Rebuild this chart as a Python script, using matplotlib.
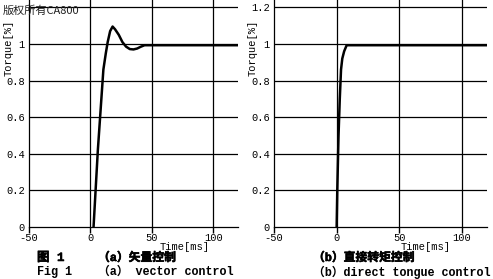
"""Torque step response: vector control vs direct torque control."""

import matplotlib
matplotlib.use("Agg")
import matplotlib.pyplot as plt
import matplotlib.patheffects as pe

MONO = "Liberation Mono"
CJK = ["Liberation Mono", "Noto Sans CJK SC"]

# (a) vector control, torque response
vc_time = [2.5, 6, 10.5, 12.5, 14, 16, 18, 20, 23, 26, 29, 32, 35, 38, 41, 44, 120]
vc_torque = [0, 0.42, 0.86, 0.95, 1.01, 1.07, 1.095, 1.08, 1.05, 1.01, 0.985,
             0.972, 0.97, 0.975, 0.985, 0.993, 0.993]

# (b) direct torque control
dtc_time = [0, 0.5, 1.5, 2.5, 3.5, 4.5, 6, 8, 120]
dtc_torque = [0, 0.2, 0.5, 0.7, 0.86, 0.92, 0.96, 0.993, 0.993]

x_ticks = [-50, 0, 50, 100]
y_ticks = [0, 0.2, 0.4, 0.6, 0.8, 1.0, 1.2]
y_labels = ["0", "0.2", "0.4", "0.6", "0.8", "1", "1.2"]

W, H = 493, 279
bold_fx = [pe.withStroke(linewidth=0.4, foreground="black")]


def setup(ax):
    ax.set_xlim(-50, 120)
    ax.set_ylim(0, 1.24)
    ax.set_xticks(x_ticks)
    ax.set_xticklabels([str(t) for t in x_ticks], family=MONO, fontsize=7.5)
    ax.set_yticks(y_ticks)
    ax.set_yticklabels(y_labels, family=MONO, fontsize=7.5)
    ax.tick_params(axis="x", length=4, width=1, pad=0.5, color="black")
    ax.tick_params(axis="y", length=0, pad=3)
    for t in x_ticks[1:]:
        ax.axvline(t, color="black", lw=0.9, zorder=1)
    for v in y_ticks[1:]:
        ax.axhline(v, color="black", lw=0.9, zorder=1)
    for s in ["top", "right"]:
        ax.spines[s].set_visible(False)
    ax.spines["left"].set_linewidth(0.9)
    ax.spines["bottom"].set_linewidth(0.9)
    ax.set_ylabel("Torque[%]", family=MONO, fontsize=7.5)
    ax.yaxis.set_label_coords(-0.075, 0.79)


fig = plt.figure(figsize=(W / 100, H / 100), dpi=100)

ax1 = fig.add_axes([29 / W, 52 / H, 209 / W, 227 / H])
setup(ax1)
ax1.plot(vc_time, vc_torque, color="black", lw=1.8, zorder=3)

ax2 = fig.add_axes([274 / W, 52 / H, 213 / W, 227 / H])
setup(ax2)
ax2.plot(dtc_time, dtc_torque, color="black", lw=1.8, zorder=3)

# the 1.2 label on the left panel sits under the watermark
ax1.get_yticklabels()[-1].set_visible(False)

# axis titles and captions
fig.text(185 / W, 1 - 247 / H, "Time[ms]", family=MONO, fontsize=7.5,
         ha="center", va="center")
fig.text(426 / W, 1 - 247 / H, "Time[ms]", family=MONO, fontsize=7.5,
         ha="center", va="center")

fig.text(37 / W, 1 - 258 / H, "图 1", family=CJK, fontsize=9,
         weight="bold", va="center", path_effects=bold_fx)
fig.text(98 / W, 1 - 258 / H, "（a）矢量控制", family=CJK, fontsize=8.5,
         weight="bold", va="center", path_effects=bold_fx)
fig.text(37 / W, 1 - 272 / H, "Fig 1", family=CJK, fontsize=8.5,
         weight="bold", va="center")
fig.text(98 / W, 1 - 272 / H, "（a） vector control", family=CJK, fontsize=8.5,
         weight="bold", va="center")

fig.text(313 / W, 1 - 258 / H, "（b）直接转矩控制", family=CJK, fontsize=8.5,
         weight="bold", va="center", path_effects=bold_fx)
fig.text(313 / W, 1 - 272 / H, "（b）direct tongue control", family=CJK,
         fontsize=8.5, weight="bold", va="center")

# watermark
fig.text(3 / W, 1 - 11 / H, "版权所有CA800", family=["Noto Sans CJK SC"],
         fontsize=8, color="#222222", va="center")

fig.savefig("out.png", dpi=100)
